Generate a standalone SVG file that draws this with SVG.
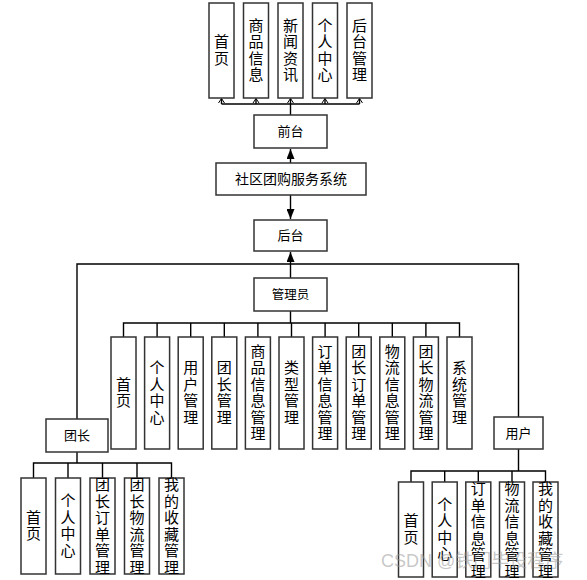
<svg xmlns="http://www.w3.org/2000/svg" width="587" height="580" viewBox="0 0 587 580">
<style>
.box{fill:#fff;stroke:#333;stroke-width:1.5}
.ln{fill:none;stroke:#000;stroke-width:1.4}
.t{font-family:"Noto Sans CJK SC","Liberation Sans",sans-serif;fill:#000;text-anchor:middle}
.v{font-size:15px}
.h{font-size:13px}
.wm{font-family:"Liberation Sans","Noto Sans CJK SC",sans-serif;font-size:18px;fill:#999;fill-opacity:0.55}
</style>
<defs>
<marker id="fa" markerWidth="10" markerHeight="8" refX="10" refY="4" orient="auto" markerUnits="userSpaceOnUse" viewBox="0 0 10 8">
<path d="M0,0 L10,4 L0,8 Z" fill="#000"/>
</marker>
<marker id="oa" markerWidth="6" markerHeight="8" refX="5.5" refY="4" orient="auto" markerUnits="userSpaceOnUse" viewBox="0 0 6 8">
<path d="M1,1 L5.5,4 L1,7" fill="none" stroke="#000" stroke-width="1"/>
</marker>
</defs>
<rect width="587" height="580" fill="#fff"/>

<g id="connectors">
<path class="ln" d="M221.5,104 H359.5"/>
<path class="ln" d="M221.5,104 V98.5" marker-end="url(#oa)"/>
<path class="ln" d="M256,104 V98.5" marker-end="url(#oa)"/>
<path class="ln" d="M290.5,104 V98.5" marker-end="url(#oa)"/>
<path class="ln" d="M325,104 V98.5" marker-end="url(#oa)"/>
<path class="ln" d="M359.5,104 V98.5" marker-end="url(#oa)"/>
<path class="ln" d="M290.5,115 V104"/>
<path class="ln" d="M290.5,163 V149" marker-end="url(#fa)"/>
<path class="ln" d="M290.5,195 V219" marker-end="url(#fa)"/>
<path class="ln" d="M290.5,278 V252" marker-end="url(#fa)"/>
<path class="ln" d="M77,419 V264 H518.5 V417"/>
<path class="ln" d="M290.5,311 V323 M123.5,337 V323 H459.5 V337 M157.1,323 V337 M190.7,323 V337 M224.3,323 V337 M257.9,323 V337 M291.5,323 V337 M325.1,323 V337 M358.7,323 V337 M392.3,323 V337 M425.9,323 V337"/>
<path class="ln" d="M77,452 V463 M33.5,478 V463 H171.5 V478 M68,463 V478 M102.5,463 V478 M137,463 V478"/>
<path class="ln" d="M518.5,449 V471 M411,482 V471 H545.5 V482 M444.7,471 V482 M478.3,471 V482 M512,471 V482"/>
</g>

<g id="top-home"><rect class="box" x="209" y="3" width="25" height="95"/><text class="t v"><tspan x="221.5" y="47">首</tspan><tspan x="221.5" y="63.5">页</tspan></text></g>
<g id="top-goods"><rect class="box" x="243.5" y="3" width="25" height="95"/><text class="t v"><tspan x="256" y="30.5">商</tspan><tspan x="256" y="47">品</tspan><tspan x="256" y="63.5">信</tspan><tspan x="256" y="80">息</tspan></text></g>
<g id="top-news"><rect class="box" x="278" y="3" width="25" height="95"/><text class="t v"><tspan x="290.5" y="30.5">新</tspan><tspan x="290.5" y="47">闻</tspan><tspan x="290.5" y="63.5">资</tspan><tspan x="290.5" y="80">讯</tspan></text></g>
<g id="top-personal"><rect class="box" x="312.5" y="3" width="25" height="95"/><text class="t v"><tspan x="325" y="30.5">个</tspan><tspan x="325" y="47">人</tspan><tspan x="325" y="63.5">中</tspan><tspan x="325" y="80">心</tspan></text></g>
<g id="top-backend"><rect class="box" x="347" y="3" width="25" height="95"/><text class="t v"><tspan x="359.5" y="30.5">后</tspan><tspan x="359.5" y="47">台</tspan><tspan x="359.5" y="63.5">管</tspan><tspan x="359.5" y="80">理</tspan></text></g>

<g id="frontend"><rect class="box" x="254" y="115" width="73" height="33"/><text class="t h" x="290.5" y="136">前台</text></g>
<g id="system"><rect class="box" x="216" y="163" width="150" height="32"/><text class="t" style="font-size:14px" x="291" y="184">社区团购服务系统</text></g>
<g id="backend"><rect class="box" x="254" y="220" width="73" height="31"/><text class="t h" x="290.5" y="240">后台</text></g>
<g id="admin"><rect class="box" x="254" y="278" width="73" height="33"/><text class="t" style="font-size:12.5px" x="290.5" y="299">管理员</text></g>

<g id="a-home"><rect class="box" x="111" y="337" width="25" height="112"/><text class="t v"><tspan x="123.5" y="389.5">首</tspan><tspan x="123.5" y="406">页</tspan></text></g>
<g id="a-personal"><rect class="box" x="144.6" y="337" width="25" height="112"/><text class="t v"><tspan x="157.1" y="373">个</tspan><tspan x="157.1" y="389.5">人</tspan><tspan x="157.1" y="406">中</tspan><tspan x="157.1" y="422.5">心</tspan></text></g>
<g id="a-user"><rect class="box" x="178.2" y="337" width="25" height="112"/><text class="t v"><tspan x="190.7" y="373">用</tspan><tspan x="190.7" y="389.5">户</tspan><tspan x="190.7" y="406">管</tspan><tspan x="190.7" y="422.5">理</tspan></text></g>
<g id="a-leader"><rect class="box" x="211.8" y="337" width="25" height="112"/><text class="t v"><tspan x="224.3" y="373">团</tspan><tspan x="224.3" y="389.5">长</tspan><tspan x="224.3" y="406">管</tspan><tspan x="224.3" y="422.5">理</tspan></text></g>
<g id="a-goods"><rect class="box" x="245.4" y="337" width="25" height="112"/><text class="t v"><tspan x="257.9" y="356.5">商</tspan><tspan x="257.9" y="373">品</tspan><tspan x="257.9" y="389.5">信</tspan><tspan x="257.9" y="406">息</tspan><tspan x="257.9" y="422.5">管</tspan><tspan x="257.9" y="439">理</tspan></text></g>
<g id="a-type"><rect class="box" x="279" y="337" width="25" height="112"/><text class="t v"><tspan x="291.5" y="373">类</tspan><tspan x="291.5" y="389.5">型</tspan><tspan x="291.5" y="406">管</tspan><tspan x="291.5" y="422.5">理</tspan></text></g>
<g id="a-order"><rect class="box" x="312.6" y="337" width="25" height="112"/><text class="t v"><tspan x="325.1" y="356.5">订</tspan><tspan x="325.1" y="373">单</tspan><tspan x="325.1" y="389.5">信</tspan><tspan x="325.1" y="406">息</tspan><tspan x="325.1" y="422.5">管</tspan><tspan x="325.1" y="439">理</tspan></text></g>
<g id="a-leader-order"><rect class="box" x="346.2" y="337" width="25" height="112"/><text class="t v"><tspan x="358.7" y="356.5">团</tspan><tspan x="358.7" y="373">长</tspan><tspan x="358.7" y="389.5">订</tspan><tspan x="358.7" y="406">单</tspan><tspan x="358.7" y="422.5">管</tspan><tspan x="358.7" y="439">理</tspan></text></g>
<g id="a-logistics"><rect class="box" x="379.8" y="337" width="25" height="112"/><text class="t v"><tspan x="392.3" y="356.5">物</tspan><tspan x="392.3" y="373">流</tspan><tspan x="392.3" y="389.5">信</tspan><tspan x="392.3" y="406">息</tspan><tspan x="392.3" y="422.5">管</tspan><tspan x="392.3" y="439">理</tspan></text></g>
<g id="a-leader-logistics"><rect class="box" x="413.4" y="337" width="25" height="112"/><text class="t v"><tspan x="425.9" y="356.5">团</tspan><tspan x="425.9" y="373">长</tspan><tspan x="425.9" y="389.5">物</tspan><tspan x="425.9" y="406">流</tspan><tspan x="425.9" y="422.5">管</tspan><tspan x="425.9" y="439">理</tspan></text></g>
<g id="a-system"><rect class="box" x="447" y="337" width="25" height="112"/><text class="t v"><tspan x="459.5" y="373">系</tspan><tspan x="459.5" y="389.5">统</tspan><tspan x="459.5" y="406">管</tspan><tspan x="459.5" y="422.5">理</tspan></text></g>

<g id="leader"><rect class="box" x="46" y="419" width="62" height="33"/><text class="t h" x="77" y="440">团长</text></g>
<g id="l-home"><rect class="box" x="21" y="478" width="25" height="96"/><text class="t v"><tspan x="33.5" y="522.5">首</tspan><tspan x="33.5" y="539">页</tspan></text></g>
<g id="l-personal"><rect class="box" x="55.5" y="478" width="25" height="96"/><text class="t v"><tspan x="68" y="506">个</tspan><tspan x="68" y="522.5">人</tspan><tspan x="68" y="539">中</tspan><tspan x="68" y="555.5">心</tspan></text></g>
<g id="l-order"><rect class="box" x="90" y="478" width="25" height="96"/><text class="t v"><tspan x="102.5" y="490">团</tspan><tspan x="102.5" y="506.5">长</tspan><tspan x="102.5" y="523">订</tspan><tspan x="102.5" y="539.5">单</tspan><tspan x="102.5" y="556">管</tspan><tspan x="102.5" y="572.5">理</tspan></text></g>
<g id="l-logistics"><rect class="box" x="124.5" y="478" width="25" height="96"/><text class="t v"><tspan x="137" y="490">团</tspan><tspan x="137" y="506.5">长</tspan><tspan x="137" y="523">物</tspan><tspan x="137" y="539.5">流</tspan><tspan x="137" y="556">管</tspan><tspan x="137" y="572.5">理</tspan></text></g>
<g id="l-fav"><rect class="box" x="159" y="478" width="25" height="96"/><text class="t v"><tspan x="171.5" y="490">我</tspan><tspan x="171.5" y="506.5">的</tspan><tspan x="171.5" y="523">收</tspan><tspan x="171.5" y="539.5">藏</tspan><tspan x="171.5" y="556">管</tspan><tspan x="171.5" y="572.5">理</tspan></text></g>

<g id="user"><rect class="box" x="494" y="417" width="49" height="32"/><text class="t h" x="518.5" y="438">用户</text></g>
<g id="u-home"><rect class="box" x="398.5" y="482" width="25" height="95"/><text class="t v"><tspan x="411" y="526">首</tspan><tspan x="411" y="542.5">页</tspan></text></g>
<g id="u-personal"><rect class="box" x="432.2" y="482" width="25" height="95"/><text class="t v"><tspan x="444.7" y="509.5">个</tspan><tspan x="444.7" y="526">人</tspan><tspan x="444.7" y="542.5">中</tspan><tspan x="444.7" y="559">心</tspan></text></g>
<g id="u-order"><rect class="box" x="465.8" y="482" width="25" height="95"/><text class="t v"><tspan x="478.3" y="494">订</tspan><tspan x="478.3" y="510.5">单</tspan><tspan x="478.3" y="527">信</tspan><tspan x="478.3" y="543.5">息</tspan><tspan x="478.3" y="560">管</tspan><tspan x="478.3" y="576.5">理</tspan></text></g>
<g id="u-logistics"><rect class="box" x="499.5" y="482" width="25" height="95"/><text class="t v"><tspan x="512" y="494">物</tspan><tspan x="512" y="510.5">流</tspan><tspan x="512" y="527">信</tspan><tspan x="512" y="543.5">息</tspan><tspan x="512" y="560">管</tspan><tspan x="512" y="576.5">理</tspan></text></g>
<g id="u-fav"><rect class="box" x="533" y="482" width="25" height="95"/><text class="t v"><tspan x="545.5" y="494">我</tspan><tspan x="545.5" y="510.5">的</tspan><tspan x="545.5" y="527">收</tspan><tspan x="545.5" y="543.5">藏</tspan><tspan x="545.5" y="560">管</tspan><tspan x="545.5" y="576.5">理</tspan></text></g>

<text class="wm" x="381" y="567">CSDN @铁门毕设程序</text>
</svg>
